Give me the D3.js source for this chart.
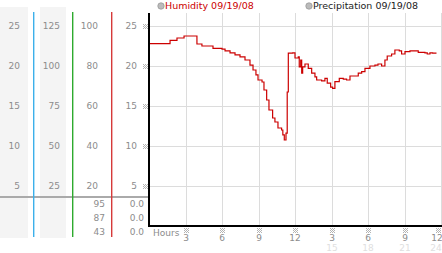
<!DOCTYPE html>
<html>
<head>
<meta charset="utf-8">
<title>Humidity 09/19/08</title>
<script src="https://d3js.org/d3.v7.min.js"></script>
<style>
  body { margin: 0; background: #fff; }
  svg { display: block; font-family: "DejaVu Sans", Verdana, sans-serif; }
</style>
</head>
<body>
<div id="chart"></div>
<script>
// readings, hour of day -> humidity value
const hours = [0, 1.59, 1.73, 2.14, 2.3, 2.79, 2.88, 3.86, 3.94, 4.35, 5.18, 5.26, 6.0, 6.25, 6.66, 7.07, 7.48, 7.89,
  8.3, 8.55, 8.79, 8.96, 9.29, 9.45, 9.67, 9.86, 10.16, 10.35, 10.6, 10.9, 11.0, 11.12, 11.26, 11.36, 11.45, 11.81,
  12.0, 12.27, 12.35, 12.47, 12.55, 12.63, 12.82, 13.09, 13.37, 13.64, 13.78, 14.19, 14.46, 14.65, 14.93, 15.09,
  15.28, 15.64, 15.97, 16.24, 16.52, 16.93, 17.2, 17.48, 17.75, 18.16, 18.57, 18.82, 19.12, 19.39, 19.58, 19.94,
  20.21, 20.57, 20.76, 21.04, 21.45, 21.86, 22.13, 22.68, 22.87, 23.09, 23.31, 23.58];
const humidity = [22.8, 22.8, 23.2, 23.2, 23.5, 23.5, 23.75, 23.75, 22.75, 22.5, 22.5, 22.2, 22.1, 21.9, 21.65, 21.4, 21.15, 20.75,
  20.1, 19.5, 18.9, 18.25, 18.0, 17.0, 15.75, 14.5, 13.5, 13.0, 12.25, 12.0, 11.4, 10.75, 11.6, 16.75, 21.6, 21.65,
  21.0, 21.15, 19.9, 20.75, 19.1, 19.9, 20.25, 19.7, 19.1, 18.65, 18.25, 18.15, 18.45, 17.85, 17.35, 17.2,
  18.05, 18.45, 18.35, 18.25, 18.75, 18.75, 19.1, 19.3, 19.7, 20.0, 20.1, 20.25, 20.0, 20.75, 21.25, 21.5,
  22.0, 21.9, 21.5, 21.8, 21.9, 21.9, 21.7, 21.65, 21.5, 21.65, 21.6, 21.7];

const yTicks = [5, 10, 15, 20, 25];
const col2Ticks = [25, 50, 75, 100, 125];
const col3Ticks = [20, 40, 60, 80, 100];
const hourTicks = [3, 6, 9, 12, 15, 18, 21, 24];
const hourLabels = ["3", "6", "9", "12", "3", "6", "9", "12"];
const hourLabels24 = ["", "", "", "", "15", "18", "21", "24"];
const summaryCol3 = ["95", "87", "43"];
const summaryCol4 = ["0.0", "0.0", "0.0"];
const legendItems = ["Humidity 09/19/08", "Precipitation 09/19/08"];

const W = 442, H = 253;
const plotLeft = 149, plotRight = 441, plotTop = 13, plotBottom = 226;
const grey = "#8c8c8c";

const svg = d3.select("#chart").append("svg")
  .attr("width", W).attr("height", H)
  .style("font-size", "9px");

const x = d3.scaleLinear().domain([0, 24]).range([plotLeft, plotRight]);
const y = d3.scaleLinear().domain([0, 25]).range([plotBottom, 26]);
const y2 = d3.scaleLinear().domain([0, 125]).range([plotBottom, 26]);
const y3 = d3.scaleLinear().domain([0, 100]).range([plotBottom, 26]);

// tiny dotted tick mark used by the original chart
function dotMark(g, cx, cy) {
  const pts = [[-2, -2], [0, -2], [2, -2], [-1, -1], [1, -1], [-2, 0], [0, 0], [2, 0], [-1, 1], [1, 1], [-2, 2], [0, 2], [2, 2]];
  g.selectAll(null).data(pts).join("rect")
    .attr("x", d => cx + d[0]).attr("y", d => cy + d[1])
    .attr("width", 1).attr("height", 1)
    .attr("fill", "#b4b4b4");
}

// left side panel
const side = svg.append("g");
side.append("rect").attr("x", 0).attr("y", 7).attr("width", 28).attr("height", 231).attr("fill", "#f4f4f4");
side.append("rect").attr("x", 40).attr("y", 7).attr("width", 26).attr("height", 231).attr("fill", "#f4f4f4");

side.selectAll(".c1").data(yTicks).join("text")
  .attr("x", 20).attr("y", d => y(d)).attr("dy", "0.35em")
  .attr("text-anchor", "end").attr("fill", grey).text(d => d);
side.selectAll(".c2").data(col2Ticks).join("text")
  .attr("x", 60).attr("y", d => y2(d)).attr("dy", "0.35em")
  .attr("text-anchor", "end").attr("fill", grey).text(d => d);
side.selectAll(".c3").data(col3Ticks).join("text")
  .attr("x", 98).attr("y", d => y3(d)).attr("dy", "0.35em")
  .attr("text-anchor", "end").attr("fill", grey).text(d => d);
side.selectAll(".c4").data(yTicks).join("text")
  .attr("x", 137).attr("y", d => y(d)).attr("dy", "0.35em")
  .attr("text-anchor", "end").attr("fill", grey).text(d => d);

side.append("rect").attr("x", 0).attr("y", 196).attr("width", plotLeft).attr("height", 2)
  .attr("fill", "#aaa");

[[33, "#3cb0ea"], [72, "#2eaa2e"], [111, "#d63a3a"]].forEach(([lx, c]) => {
  side.append("rect").attr("x", lx).attr("y", 12).attr("width", 1.4).attr("height", 225)
    .attr("fill", c);
});

side.selectAll(".s3").data(summaryCol3).join("text")
  .attr("x", 105).attr("y", (d, i) => 204 + i * 14).attr("dy", "0.35em")
  .attr("text-anchor", "end").attr("fill", grey).text(d => d);
side.selectAll(".s4").data(summaryCol4).join("text")
  .attr("x", 144).attr("y", (d, i) => 204 + i * 14).attr("dy", "0.35em")
  .attr("text-anchor", "end").attr("fill", grey).text(d => d);

// plot grid
const grid = svg.append("g").attr("stroke", "#dcdcdc").attr("stroke-width", 1);
grid.selectAll(".h").data(yTicks).join("line")
  .attr("x1", plotLeft).attr("x2", plotRight)
  .attr("y1", d => Math.round(y(d)) + 0.5).attr("y2", d => Math.round(y(d)) + 0.5);
grid.selectAll(".v").data(hourTicks).join("line")
  .attr("x1", d => Math.round(x(d)) + 0.5).attr("x2", d => Math.round(x(d)) + 0.5)
  .attr("y1", plotTop).attr("y2", plotBottom);

yTicks.forEach(t => dotMark(svg, 145, Math.round(y(t))));

// humidity line
const line = d3.line()
  .x((d, i) => x(hours[i]))
  .y(d => y(d))
  .curve(d3.curveStepAfter);
svg.append("path").datum(humidity)
  .attr("d", line)
  .attr("fill", "none").attr("stroke", "#cc0000").attr("stroke-width", 1.2);

// axes
svg.append("line").attr("x1", plotLeft).attr("x2", plotLeft).attr("y1", plotTop).attr("y2", plotBottom + 1)
  .attr("stroke", "#000").attr("stroke-width", 2);
svg.append("line").attr("x1", plotLeft - 1).attr("x2", plotRight + 1).attr("y1", plotBottom).attr("y2", plotBottom)
  .attr("stroke", "#000").attr("stroke-width", 2);

// hour labels
svg.append("text").attr("x", 153).attr("y", 233).attr("dy", "0.35em").attr("fill", grey).text("Hours");
hourTicks.forEach((h, i) => {
  const hx = Math.round(x(h));
  dotMark(svg, Math.min(hx, 438), 230);
  svg.append("text").attr("x", Math.min(hx, 437)).attr("y", 238).attr("dy", "0.35em")
    .attr("text-anchor", "middle").attr("fill", grey).text(hourLabels[i]);
  if (hourLabels24[i]) {
    svg.append("text").attr("x", Math.min(hx, 436)).attr("y", 248).attr("dy", "0.35em")
      .attr("text-anchor", "middle").attr("fill", "#e0e0e0").text(hourLabels24[i]);
  }
});

// legend
const legend = svg.append("g");
[[161, "#cc0000"], [309, "#222"]].forEach(([lx, c], i) => {
  legend.append("circle").attr("cx", lx).attr("cy", 6).attr("r", 3.2)
    .attr("fill", "#bbb").attr("stroke", "#999").attr("stroke-width", 0.8);
  legend.append("text").attr("x", lx + 4).attr("y", 6).attr("dy", "0.35em")
    .attr("fill", c).style("font-size", "9.5px").text(legendItems[i]);
});
</script>
</body>
</html>
